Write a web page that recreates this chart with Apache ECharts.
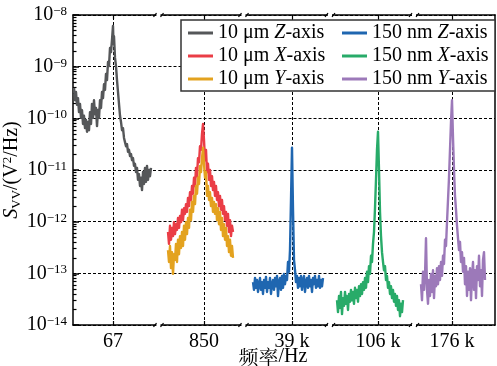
<!DOCTYPE html>
<html>
<head>
<meta charset="utf-8">
<script src="https://cdn.jsdelivr.net/npm/echarts@6/dist/echarts.min.js"></script>
<style>
  html, body { margin: 0; padding: 0; background: #fff; }
  #chart { width: 497px; height: 366px; }
</style>
</head>
<body>
<div id="chart"></div>
<script>
// values are log10 of S_VV (V^2/Hz)
const seriesNames = ['10 μm Z-axis', '10 μm X-axis', '10 μm Y-axis', '150 nm Z-axis', '150 nm X-axis', '150 nm Y-axis'];
const centerFreqs = [67, 850, 39000, 106000, 176000];
const tickLabels = ['67', '850', '39 k', '106 k', '176 k'];

const freq67 = [47.5, 48, 48.5, 49, 49.5, 50, 50.5, 51, 51.5, 52, 52.5, 53, 53.5, 54, 54.5, 55, 55.5, 56, 56.5, 57,
  57.5, 58, 58.5, 59, 59.5, 60, 60.5, 61, 61.5, 62, 62.5, 63, 63.5, 64, 64.5, 65, 65.5, 66, 66.5, 67,
  67.25, 67.5, 68, 68.5, 69, 69.5, 70, 70.5, 71, 71.5, 72, 72.5, 73, 73.5, 74, 74.5, 75, 75.5, 76, 76.5,
  77, 77.5, 78, 78.5, 79, 79.5, 80, 80.5, 81, 81.5, 82, 82.5, 83, 83.5, 84, 84.5, 85, 85.5, 86];
const s10umZ = [-9.41, -9.65, -9.49, -9.74, -9.61, -9.88, -9.72, -9.99, -9.84, -10.11, -9.95, -10.19, -10.03, -10.26, -10.07, -10.23, -9.88, -10.11, -9.72, -9.99,
  -9.65, -9.92, -9.80, -10.15, -9.84, -9.99, -9.65, -9.80, -9.49, -9.61, -9.34, -9.45, -9.14, -9.26, -8.91, -8.99, -8.64, -8.72, -8.48, -8.21,
  -8.56, -8.41, -8.83, -8.99, -9.26, -9.49, -9.72, -9.95, -10.07, -10.23, -10.19, -10.38, -10.46, -10.54, -10.50, -10.65, -10.61, -10.73, -10.69, -10.81,
  -10.77, -10.92, -10.88, -11.04, -10.96, -11.19, -11.08, -11.31, -11.15, -11.39, -11.04, -11.27, -10.96, -11.23, -10.92, -11.19, -11.00, -11.12, -10.96];

const freq850 = [814, 815, 816, 817, 818, 819, 820, 821, 822, 823, 824, 825, 826, 827, 828, 829, 830, 831, 832, 833,
  834, 835, 836, 837, 838, 839, 840, 841, 842, 843, 844, 845, 846, 847, 848, 849, 850, 851, 852, 853,
  854, 855, 856, 857, 858, 859, 860, 861, 862, 863, 864, 865, 866, 867, 868, 869, 870, 871, 872, 873,
  874, 875, 876, 877, 878, 879];
const s10umX = [-12.20, -12.43, -12.08, -12.35, -12.12, -12.28, -12.01, -12.24, -12.05, -12.16, -11.93, -12.12, -11.89, -12.01, -11.77, -11.97, -11.74, -11.85, -11.66, -11.81,
  -11.54, -11.70, -11.43, -11.58, -11.31, -11.46, -11.15, -11.31, -10.96, -11.12, -10.77, -10.85, -10.54, -10.61, -10.30, -10.11, -10.42, -10.81, -10.61, -11.04,
  -10.88, -11.19, -11.00, -11.31, -11.12, -11.39, -11.23, -11.50, -11.31, -11.58, -11.43, -11.70, -11.50, -11.77, -11.58, -11.85, -11.70, -11.97, -11.81, -12.08,
  -11.85, -12.20, -11.97, -12.28, -12.08, -12.20];
const s10umY = [-12.55, -12.78, -12.47, -12.90, -12.59, -13.01, -12.63, -12.74, -12.43, -12.78, -12.35, -12.63, -12.28, -12.51, -12.20, -12.47, -12.08, -12.35, -12.01, -12.24,
  -11.93, -12.12, -11.77, -11.97, -11.62, -11.81, -11.50, -11.66, -11.31, -11.46, -11.15, -11.27, -10.92, -11.04, -10.77, -10.57, -10.88, -11.15, -11.04, -11.50,
  -11.31, -11.58, -11.43, -11.70, -11.54, -11.81, -11.62, -11.85, -11.66, -11.97, -11.74, -12.05, -11.81, -12.16, -11.93, -12.28, -12.05, -12.35, -12.12, -12.47,
  -12.28, -12.59, -12.35, -12.66, -12.47, -12.70];

const freq39k = [38610, 38620, 38630, 38640, 38650, 38660, 38670, 38680, 38690, 38700, 38710, 38720, 38730, 38740, 38750, 38760, 38770, 38780, 38790, 38800,
  38810, 38820, 38830, 38840, 38850, 38860, 38870, 38880, 38890, 38900, 38910, 38920, 38930, 38940, 38950, 38960, 38970, 38980, 38990, 39000,
  39010, 39020, 39030, 39040, 39050, 39060, 39070, 39080, 39090, 39100, 39110, 39120, 39130, 39140, 39150, 39160, 39170, 39180, 39190, 39200,
  39210, 39220, 39230, 39240, 39250, 39260, 39270, 39280, 39290, 39300, 39310];
const s150nmZ = [-13.17, -13.32, -13.09, -13.28, -13.13, -13.36, -13.21, -13.09, -13.32, -13.17, -13.40, -13.13, -13.28, -13.07, -13.36, -13.17, -13.28, -13.09, -13.40, -13.21,
  -13.13, -13.32, -13.09, -13.25, -13.05, -13.44, -13.17, -13.09, -13.32, -13.05, -13.28, -13.01, -13.21, -13.05, -13.13, -12.78, -12.97, -12.55, -11.58, -10.57,
  -11.77, -12.74, -12.94, -13.17, -13.05, -13.28, -13.09, -13.25, -13.05, -13.32, -13.13, -13.05, -13.36, -13.17, -13.09, -13.28, -13.05, -13.25, -13.13, -13.36,
  -13.09, -13.21, -13.05, -13.28, -13.13, -13.25, -13.05, -13.28, -13.13, -13.25, -13.09];

const freq106k = [105590, 105600, 105610, 105620, 105630, 105640, 105650, 105660, 105670, 105680, 105690, 105700, 105710, 105720, 105730, 105740, 105750, 105760, 105770, 105780,
  105790, 105800, 105810, 105820, 105830, 105840, 105850, 105860, 105870, 105880, 105890, 105900, 105910, 105920, 105930, 105940, 105950, 105960, 105970, 105980,
  105990, 106000, 106010, 106020, 106030, 106040, 106050, 106060, 106070, 106080, 106090, 106100, 106110, 106120, 106130, 106140, 106150, 106160, 106170, 106180,
  106190, 106200, 106210, 106220, 106230, 106240, 106250];
const s150nmX = [-13.52, -13.75, -13.44, -13.67, -13.36, -13.79, -13.48, -13.63, -13.36, -13.59, -13.44, -13.71, -13.40, -13.55, -13.32, -13.52, -13.36, -13.59, -13.28, -13.48,
  -13.32, -13.55, -13.25, -13.44, -13.21, -13.40, -13.17, -13.32, -13.09, -13.28, -12.97, -13.17, -12.86, -13.01, -12.66, -12.78, -12.43, -12.20, -11.74, -11.19,
  -10.61, -10.26, -11.00, -11.81, -12.28, -12.59, -12.78, -12.94, -12.86, -13.13, -13.05, -13.28, -13.17, -13.40, -13.25, -13.48, -13.32, -13.55, -13.40, -13.63,
  -13.44, -13.71, -13.52, -13.83, -13.59, -13.75, -13.52];

const freq176k = [175690, 175700, 175710, 175720, 175730, 175740, 175750, 175760, 175770, 175780, 175790, 175800, 175810, 175820, 175830, 175840, 175850, 175860, 175870, 175880,
  175890, 175900, 175910, 175920, 175930, 175940, 175950, 175960, 175970, 175980, 175990, 176000, 176010, 176020, 176030, 176040, 176050, 176060, 176070, 176080,
  176090, 176100, 176110, 176120, 176130, 176140, 176150, 176160, 176170, 176180, 176190, 176200, 176210, 176220, 176230, 176240, 176250, 176260, 176270, 176280,
  176290, 176300, 176310, 176320, 176330];
const s150nmY = [-13.21, -13.52, -12.97, -13.32, -13.05, -12.32, -13.32, -13.59, -13.13, -13.44, -13.01, -13.36, -12.94, -13.48, -13.05, -13.25, -12.90, -13.21, -12.86, -13.13,
  -12.78, -13.05, -12.66, -12.82, -12.35, -12.47, -12.01, -11.58, -11.15, -10.61, -10.07, -9.65, -10.38, -11.00, -11.50, -11.77, -12.08, -12.32, -12.55, -12.39,
  -12.78, -12.59, -12.97, -12.70, -13.21, -12.86, -13.44, -12.97, -13.32, -12.90, -13.52, -13.05, -12.78, -13.32, -12.94, -13.48, -12.86, -13.13, -12.66, -13.25,
  -12.94, -13.44, -12.74, -12.59, -13.13];

const colors = ['#555759', '#ea3d46', '#e3a21f', '#1f66b0', '#28ab69', '#9c79b9'];
const serif = "'Liberation Serif', 'Times New Roman', serif";
const cjk = "'Noto Serif CJK SC', 'Noto Sans CJK SC', sans-serif";

// broken x axis: one grid per segment
const segs = [
  { left: 73, width: 85.5, min: 47, max: 89.75 },
  { left: 158.5, width: 85, min: 804.5, max: 889.5 },
  { left: 243.5, width: 86.5, min: 38515, max: 39380 },
  { left: 330, width: 84, min: 105520, max: 106360 },
  { left: 414, width: 81, min: 175620, max: 176430 }
];
const plotTop = 15, plotBottom = 325;

const seriesDefs = [
  { seg: 0, f: freq67, v: s10umZ, mark: true },
  { seg: 1, f: freq850, v: s10umX, mark: true },
  { seg: 1, f: freq850, v: s10umY },
  { seg: 2, f: freq39k, v: s150nmZ, mark: true },
  { seg: 3, f: freq106k, v: s150nmX, mark: true },
  { seg: 4, f: freq176k, v: s150nmY, mark: true }
];

const axisLine = { show: true, lineStyle: { color: '#000', width: 1.5 } };
const dashed = { type: [3, 2], color: '#000', width: 1 };

const grids = segs.map((s) => ({
  left: s.left, width: s.width, top: plotTop, height: plotBottom - plotTop,
  outerBoundsMode: 'none'
}));

const xAxes = [];
segs.forEach((s, i) => {
  const c = centerFreqs[i];
  xAxes.push({
    gridIndex: i, type: 'value', min: s.min, max: s.max, position: 'bottom',
    axisLine,
    axisTick: { show: true, inside: true, length: 4, customValues: [c], lineStyle: { color: '#000', width: 1.2 } },
    axisLabel: { customValues: [c], formatter: () => tickLabels[i], fontFamily: serif, fontSize: 20, color: '#000', margin: 7 },
    splitLine: { show: false }
  });
  xAxes.push({
    gridIndex: i, type: 'value', min: s.min, max: s.max, position: 'top',
    axisLine,
    axisTick: { show: true, inside: true, length: 4, customValues: [c], lineStyle: { color: '#000', width: 1.2 } },
    axisLabel: { show: false },
    splitLine: { show: false }
  });
});

const yAxes = segs.map((s, i) => ({
  gridIndex: i, type: 'value', min: -14, max: -8, interval: 1,
  axisLine: i === 0 ? axisLine : { show: false },
  axisTick: { show: i === 0, inside: true, length: 6, lineStyle: { color: '#000', width: 1.5 } },
  axisLabel: {
    show: i === 0, margin: 6,
    formatter: (v) => '{b|10}{s|−' + Math.abs(v) + '}',
    rich: {
      b: { fontFamily: serif, fontSize: 20, lineHeight: 20, color: '#000' },
      s: { fontFamily: serif, fontSize: 13, lineHeight: 12, verticalAlign: 'top', color: '#000' }
    }
  },
  splitLine: { show: true, lineStyle: dashed },
  name: i === 0 ? '{i|S}{sub|VV}{n|/(V}{sup|2}{n|/Hz)}' : '',
  nameLocation: 'middle', nameRotate: 90, nameGap: 40,
  nameTextStyle: {
    rich: {
      i: { fontFamily: serif, fontSize: 20, fontStyle: 'italic', lineHeight: 22, color: '#000' },
      n: { fontFamily: serif, fontSize: 20, lineHeight: 22, color: '#000' },
      sub: { fontFamily: serif, fontSize: 13, lineHeight: 12, verticalAlign: 'bottom', color: '#000' },
      sup: { fontFamily: serif, fontSize: 13, lineHeight: 12, verticalAlign: 'top', color: '#000' }
    }
  }
}));
// minor ticks of the log axis (2..9 within each decade)
const minorTicks = [];
for (let d = -14; d < -8; d++) for (let k = 2; k <= 9; k++) minorTicks.push(d + Math.log10(k));
yAxes.push({
  gridIndex: 0, type: 'value', min: -14, max: -8, position: 'left',
  axisLine: { show: false },
  axisTick: { show: true, inside: true, length: 3.5, customValues: minorTicks, lineStyle: { color: '#000', width: 1.2 } },
  axisLabel: { show: false }, splitLine: { show: false }
});
yAxes.push({
  gridIndex: 4, type: 'value', min: -14, max: -8, position: 'right',
  axisLine, axisTick: { show: false }, axisLabel: { show: false }, splitLine: { show: false }
});

const series = seriesDefs.map((d, k) => ({
  type: 'line',
  name: seriesNames[k],
  xAxisIndex: d.seg * 2,
  yAxisIndex: d.seg,
  data: d.f.map((x, j) => [x, d.v[j]]),
  symbol: 'none',
  lineStyle: { color: colors[k], width: 2.4, join: 'round' },
  itemStyle: { color: colors[k] },
  z: 3,
  markLine: d.mark ? {
    silent: true, symbol: 'none', z: 1, animation: false,
    label: { show: false },
    lineStyle: dashed,
    data: [{ xAxis: centerFreqs[d.seg] }]
  } : undefined
}));

const legendRich = {
  n: { fontFamily: serif, fontSize: 20, lineHeight: 20, color: '#000' },
  i: { fontFamily: serif, fontSize: 20, lineHeight: 20, fontStyle: 'italic', color: '#000' }
};
const legendFormatter = (name) => {
  const m = name.match(/^(.*)([XYZ])(-axis)$/);
  return '{n|' + m[1] + '}{i|' + m[2] + '}{n|' + m[3] + '}';
};
const legendBase = {
  orient: 'vertical', top: 23, padding: 0, itemGap: 3,
  icon: 'rect', itemWidth: 25, itemHeight: 3,
  selectedMode: false, z: 20,
  formatter: legendFormatter,
  textStyle: { fontFamily: serif, fontSize: 20, lineHeight: 20, color: '#000', rich: legendRich }
};

// break marks on top and bottom frame lines
const breakGraphics = [];
[158.5, 243.5, 330, 414].forEach((gx) => {
  [plotTop, plotBottom].forEach((gy) => {
    breakGraphics.push({ type: 'rect', z: 12, shape: { x: gx - 2, y: gy - 2, width: 4, height: 4 }, style: { fill: '#fff' } });
    breakGraphics.push({ type: 'line', z: 13, shape: { x1: gx - 5, y1: gy + 2, x2: gx - 2, y2: gy - 2 }, style: { stroke: '#000', lineWidth: 1.2 } });
    breakGraphics.push({ type: 'line', z: 13, shape: { x1: gx + 2, y1: gy + 2, x2: gx + 5, y2: gy - 2 }, style: { stroke: '#000', lineWidth: 1.2 } });
  });
});

const chart = echarts.init(document.getElementById('chart'), null, { renderer: 'canvas' });
chart.setOption({
  animation: false,
  backgroundColor: '#fff',
  grid: grids,
  xAxis: xAxes,
  yAxis: yAxes,
  legend: [
    Object.assign({}, legendBase, { left: 188, data: seriesNames.slice(0, 3) }),
    Object.assign({}, legendBase, { left: 342, data: seriesNames.slice(3) })
  ],
  graphic: [
    { type: 'rect', z: 15, shape: { x: 181, y: 20, width: 314, height: 71 }, style: { fill: '#fff', stroke: '#333', lineWidth: 1.5 } },
    {
      type: 'text', z: 15, x: 273, y: 357,
      style: {
        text: '{c|频率}{n|/Hz}', align: 'center', verticalAlign: 'middle',
        rich: {
          c: { fontFamily: cjk, fontSize: 20, fill: '#000' },
          n: { fontFamily: serif, fontSize: 20, fill: '#000' }
        }
      }
    }
  ].concat(breakGraphics),
  series
});
</script>
</body>
</html>
